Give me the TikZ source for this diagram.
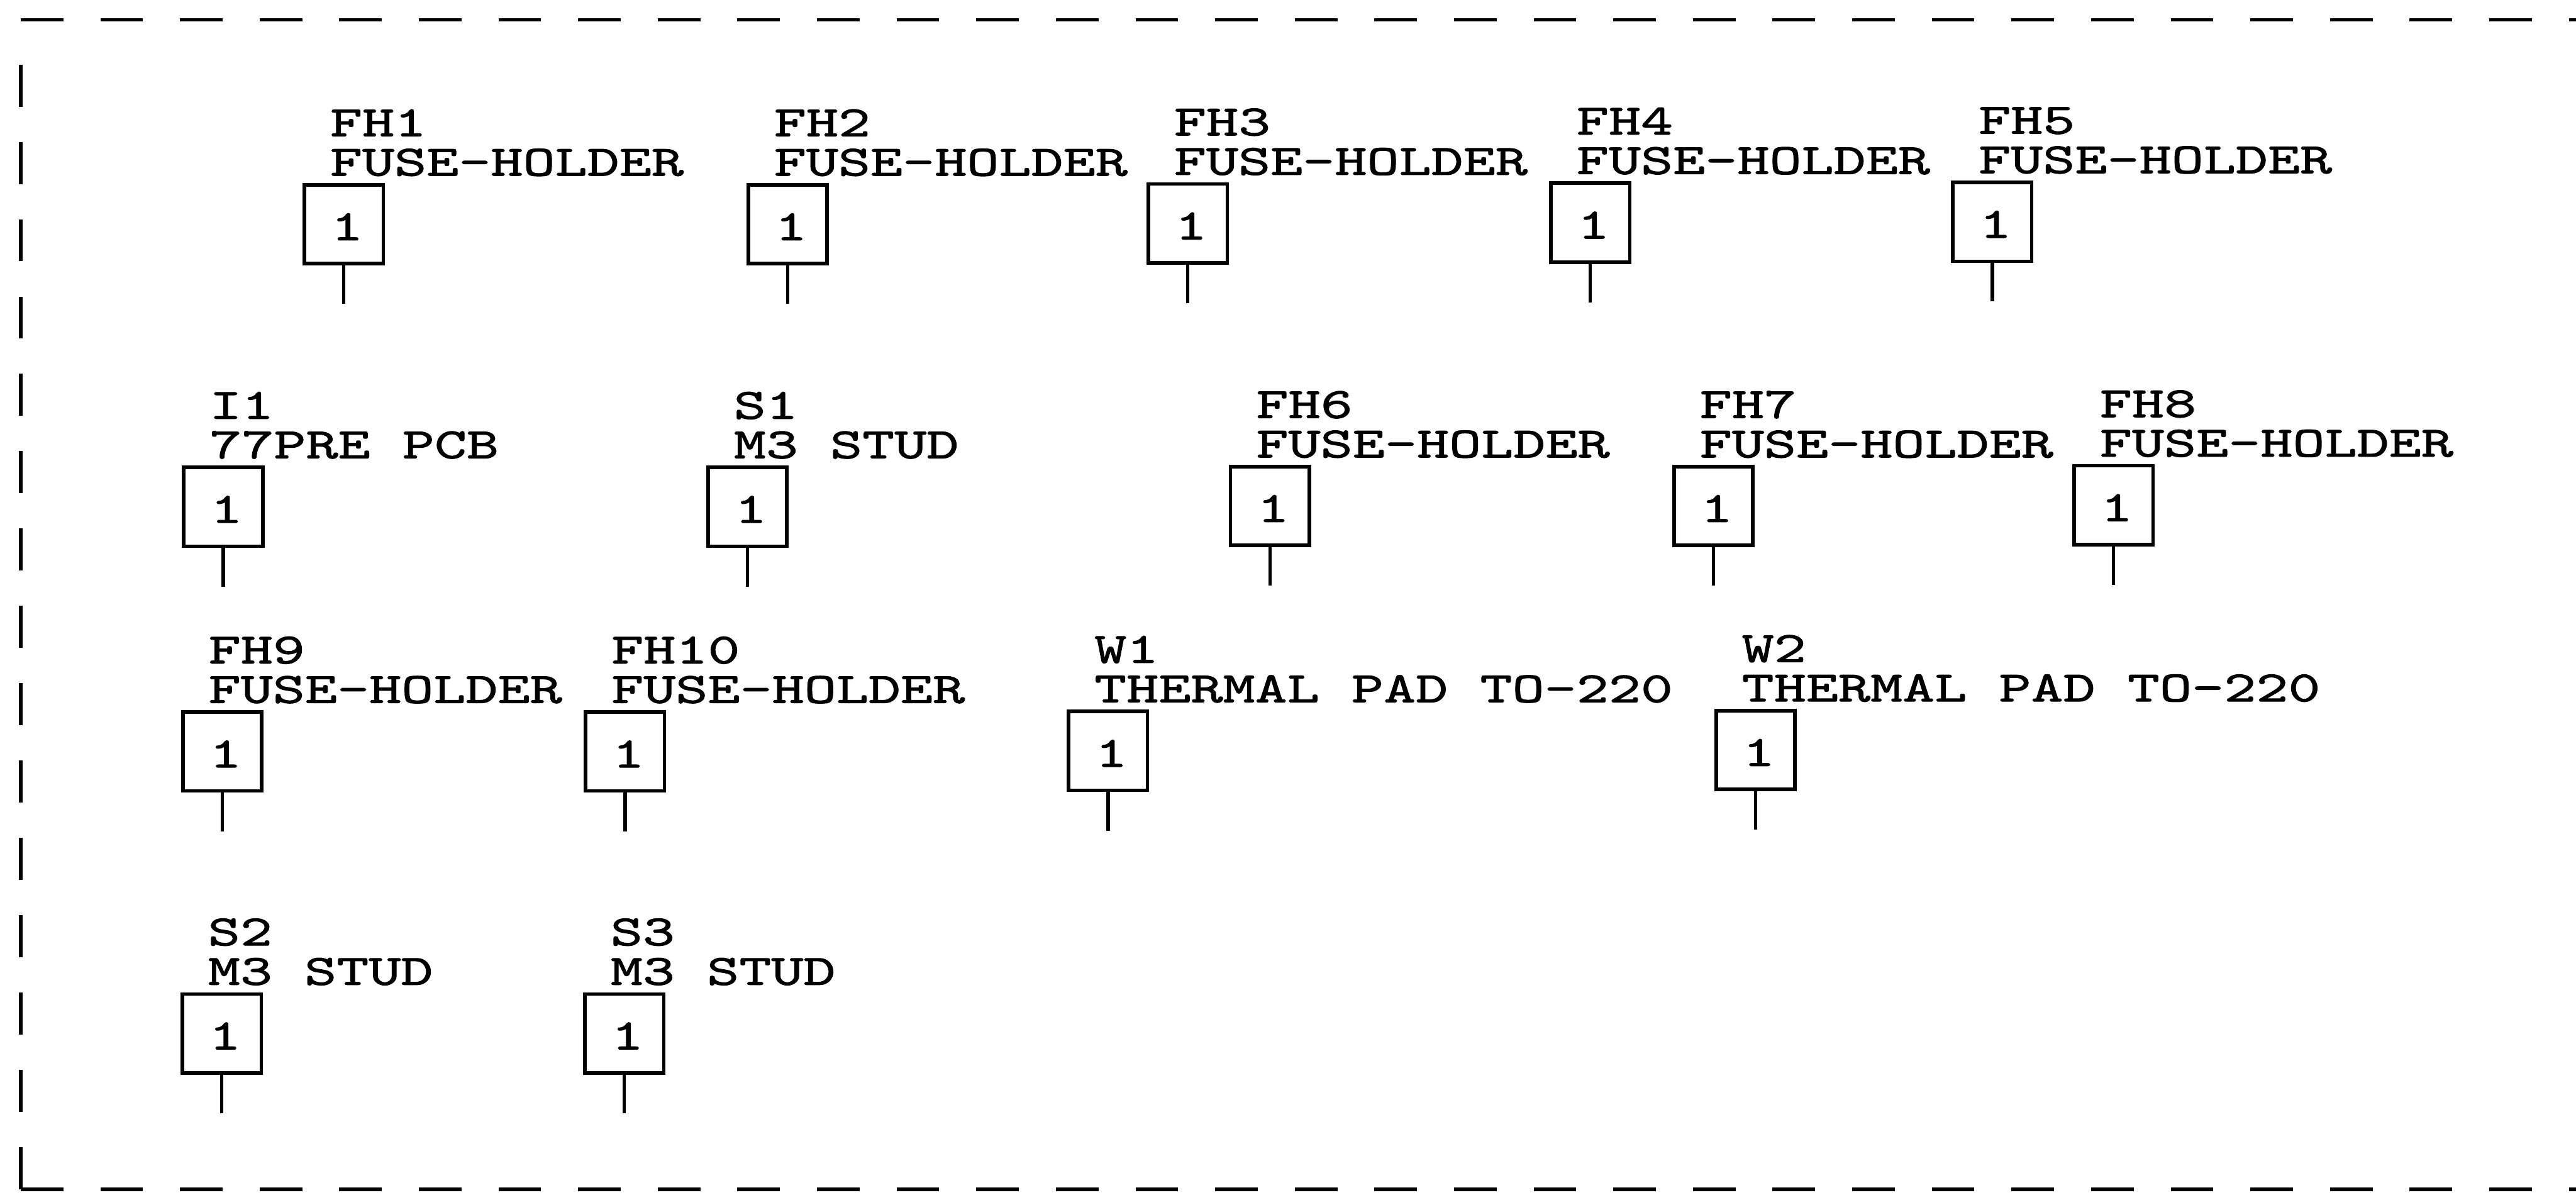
\documentclass[tikz,border=0pt]{standalone}
\usepackage{fontspec}
\newfontfamily\pcbfont{lmmono10-regular.otf}[FakeStretch=1.415, FakeBold=1.5]
\newcommand\pcbtext{\pcbfont\fontsize{7.9pt}{9pt}\selectfont}
\tikzset{
  pinbox/.style={draw, line width=0.65pt, minimum width=14.4pt, minimum height=14.4pt, inner sep=0pt},
  pinnum/.style={inner sep=0pt, font=\pcbtext},
  reftext/.style={inner sep=0pt, anchor=base west, font=\pcbtext},
  pinline/.style={line width=0.6pt},
  frameline/.style={line width=0.65pt}
}
\newcommand\pincomp[5]{%
  \begin{scope}[shift={(#2,#3)}]
    \node[pinbox] (#1) at (25,25) {};
    \node[pinnum] (#1-n) at (27,26.5) {1};
    \node[reftext] (#1-ref) at (16,-28.6) {#4};
    \node[reftext] (#1-val) at (16,-4.6) {#5};
    \coordinate (#1-end) at (25,73.5);
    \draw[pinline] (#1.south) -- (#1-end);
  \end{scope}}
\begin{document}
\begin{tikzpicture}[x=0.3pt, y=-0.3pt]
\useasboundingbox (0,0) rectangle (1568,727);
% frame
\coordinate (tl) at (12.6,12);
\coordinate (tr) at (1568,12);
\coordinate (ls) at (12.6,39.3);
\coordinate (bl) at (12.6,724);
\coordinate (br) at (1568,724);
\draw[frameline, dash pattern=on 7.785pt off 6.756pt] (tl) -- (tr);
\draw[frameline, dash pattern=on 7.785pt off 6.756pt] (bl) -- (br);
\draw[frameline, dash pattern=on 7.68pt off 6.44pt] (ls) -- (bl);
% row 1
\pincomp{FH1}{184.3}{111.5}{FH1}{FUSE-HOLDER}
\pincomp{FH2}{454.5}{111.5}{FH2}{FUSE-HOLDER}
\pincomp{FH3}{698}{111}{FH3}{FUSE-HOLDER}
\pincomp{FH4}{943}{110.5}{FH4}{FUSE-HOLDER}
\pincomp{FH5}{1187.7}{110}{FH5}{FUSE-HOLDER}
% row 2
\pincomp{I1}{110.9}{283.5}{I1}{77PRE PCB}
\pincomp{S1}{430}{283.5}{S1}{M3 STUD}
\pincomp{FH6}{748}{283}{FH6}{FUSE-HOLDER}
\pincomp{FH7}{1018}{283}{FH7}{FUSE-HOLDER}
\pincomp{FH8}{1261.5}{282.5}{FH8}{FUSE-HOLDER}
% row 3
\pincomp{FH9}{110.3}{432.4}{FH9}{FUSE-HOLDER}
\pincomp{FH10}{355.5}{432.4}{FH10}{FUSE-HOLDER}
\pincomp{W1}{649.5}{432}{W1}{THERMAL PAD TO-220}
\pincomp{W2}{1043.6}{431.5}{W2}{THERMAL PAD TO-220}
% row 4
\pincomp{S2}{110}{604}{S2}{M3 STUD}
\pincomp{S3}{355}{604}{S3}{M3 STUD}
\end{tikzpicture}
\end{document}
